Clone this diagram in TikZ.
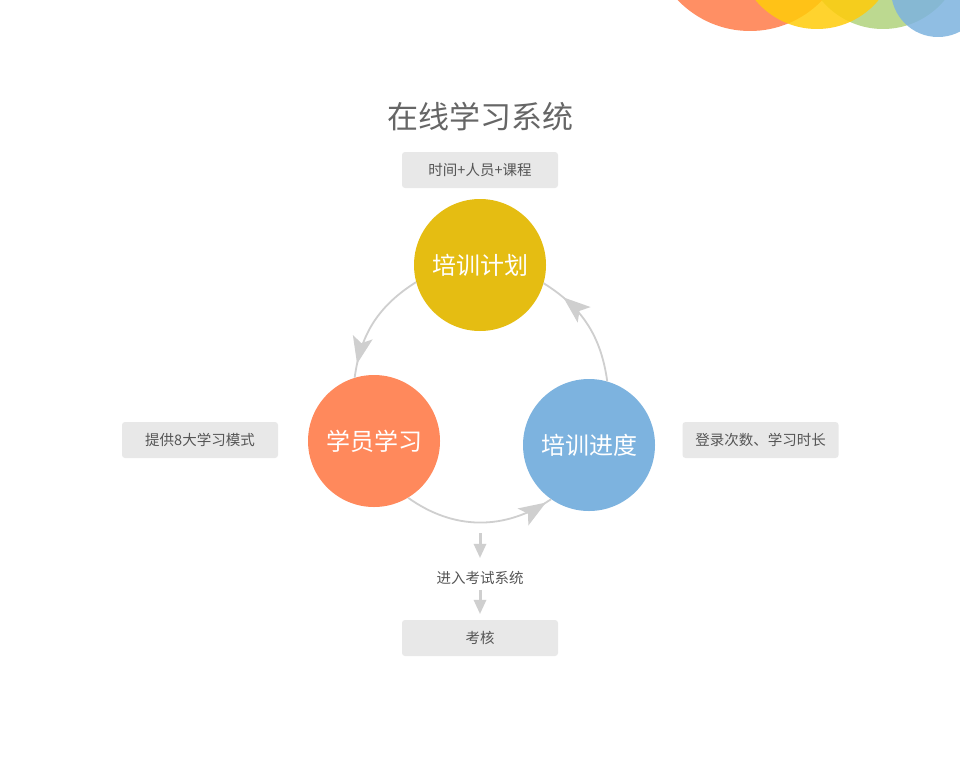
\documentclass[tikz,border=0pt]{standalone}
\usepackage{fontspec}
\newfontfamily\cjk{Noto Sans CJK SC}
\usetikzlibrary{arrows.meta,decorations.markings}
\definecolor{planyellow}{HTML}{E5BD12}
\definecolor{learnorange}{HTML}{FF895C}
\definecolor{progblue}{HTML}{7DB3DF}
\definecolor{linegray}{HTML}{CFCFCF}
\definecolor{boxgray}{HTML}{E8E8E8}
\definecolor{textgray}{HTML}{555555}
\definecolor{titlegray}{HTML}{666666}
\definecolor{decoyellow}{HTML}{FFCC0A}
\definecolor{decogreen}{HTML}{B5D584}

\begin{document}
\begin{tikzpicture}[x=1pt,y=-1pt,
    stage/.style={circle,minimum size=132pt,inner sep=0pt,text=white,font=\cjk\fontsize{24}{28}\selectfont},
    tag/.style={fill=boxgray,rounded corners=3pt,minimum width=156pt,minimum height=36pt,inner sep=0pt,text=textgray,font=\cjk\fontsize{14.5}{17}\selectfont},
    loopline/.style={draw=linegray,color=linegray,line width=1.8pt},
    tipat/.style={postaction={decorate},decoration={markings,mark=at position #1 with {\arrow{Stealth[length=27pt,width=20pt,inset=6pt]}}}},
    downline/.style={color=linegray,line width=3pt,-{Triangle[length=14pt,width=13pt,line width=0pt]}}]
  \useasboundingbox (0,0) rectangle (960,760);
  \fill[white] (0,0) rectangle (960,760);
  \begin{scope}
    \clip (0,0) rectangle (960,760);
    \fill[fill=learnorange,opacity=.95] (750,-69) circle (100);
    \fill[fill=decogreen,opacity=.9] (883,-51) circle (80);
    \fill[fill=decoyellow,opacity=.85] (817,-51) circle (80);
    \fill[fill=progblue,opacity=.85] (938,-10) circle (47);
  \end{scope}

  \node[text=titlegray,font=\cjk\fontsize{31}{36}\selectfont] (title) at (480,117) {在线学习系统};
  \node[tag] (input) at (480,170) {时间+人员+课程};
  \node[tag] (mode) at (200,440) {提供8大学习模式};
  \node[tag] (record) at (760.5,440) {登录次数、学习时长};
  \node[tag] (check) at (480,638) {考核};

  \node[stage,fill=planyellow] (plan) at (480,265) {培训计划};
  \node[stage,fill=learnorange] (learn) at (374,441) {学员学习};
  \node[stage,fill=progblue] (prog) at (589,445) {培训进度};

  \path
    (plan.195) edge[loopline,bend right=25,tipat=0.88] (learn.107)
    (learn.301) edge[loopline,bend right=35,tipat=0.96] (prog.235)
    (prog.74) edge[loopline,bend right=25,tipat=0.80] (plan.344);

  \node[inner sep=0pt,minimum height=20pt,text=textgray,font=\cjk\fontsize{14.5}{17}\selectfont] (exam) at (480,578) {进入考试系统};
  \coordinate (down) at (480,533);
  \draw[downline,shorten >=10pt] (down) -- (exam.north);
  \draw[downline,shorten <=2pt,shorten >=6pt] (exam.south) -- (check.north);
\end{tikzpicture}
\end{document}
